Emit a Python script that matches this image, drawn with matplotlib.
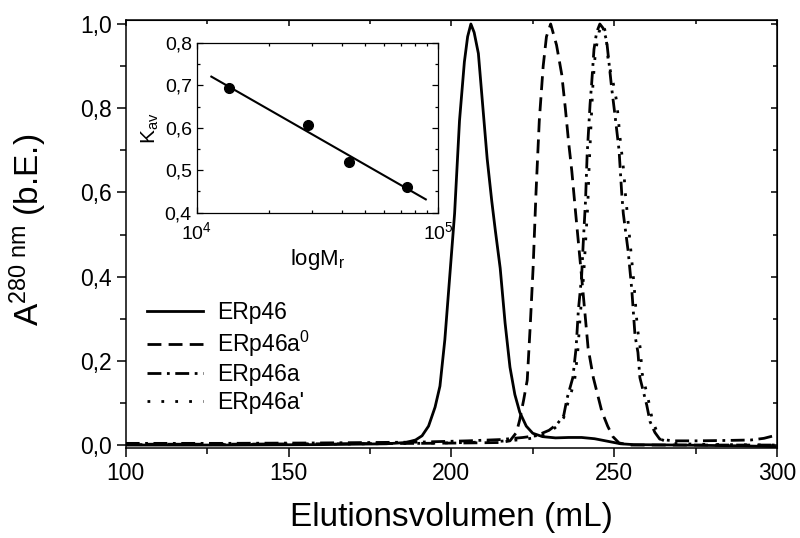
import numpy as np
import matplotlib
matplotlib.use('Agg')
import matplotlib.pyplot as plt
from matplotlib.ticker import MultipleLocator, FixedLocator, LogLocator, NullFormatter, FixedFormatter

plt.rcParams['font.family'] = ['Liberation Sans', 'DejaVu Sans']
plt.rcParams['mathtext.fontset'] = 'custom'
plt.rcParams['mathtext.rm'] = 'Liberation Sans'
plt.rcParams['mathtext.it'] = 'Liberation Sans:italic'
plt.rcParams['mathtext.bf'] = 'Liberation Sans:bold'

# ---------------- data ----------------
series_labels = ['ERp46', 'ERp46a$^{\\mathregular{0}}$', 'ERp46a', "ERp46a'"]

x_erp46 = [100, 130, 160, 180, 186, 189, 191, 193, 195, 196.5, 198, 199.5, 201, 202.5, 204, 205, 206,
           207, 208.3, 209.7, 211, 212.4, 213.5, 215, 216.5, 218, 219.5, 221, 223, 225, 228, 232, 236,
           240, 244, 248, 252, 256, 270, 290, 300]
y_erp46 = [0.000, 0.000, 0.001, 0.003, 0.006, 0.012, 0.022, 0.045, 0.09, 0.14, 0.25, 0.40, 0.55, 0.77, 0.91, 0.97, 1.0,
           0.98, 0.93, 0.80, 0.68, 0.58, 0.51, 0.42, 0.29, 0.185, 0.12, 0.078, 0.045, 0.028, 0.02, 0.017, 0.018,
           0.018, 0.015, 0.009, 0.003, 0.001, 0.0, -0.002, -0.004]

x_erp46a0 = [100, 130, 160, 190, 205, 215, 218, 220, 221, 222.2, 223.3, 224.2, 225.1, 226, 227, 228.2, 229.2,
             230.5, 232.3, 233.9, 235, 236, 237, 238, 240, 242, 243.6, 246.2, 248, 249.6, 251.5, 255, 270, 290, 300]
y_erp46a0 = [0.002, 0.002, 0.003, 0.004, 0.005, 0.006, 0.01, 0.03, 0.06, 0.107, 0.154, 0.28, 0.42, 0.60, 0.77, 0.90, 0.97,
             1.0, 0.95, 0.88, 0.80, 0.72, 0.65, 0.565, 0.40, 0.23, 0.16, 0.08, 0.045, 0.02, 0.005, 0.0, 0.0, 0.0, 0.0]

x_erp46a = [100, 130, 160, 190, 205, 215, 222, 226, 230, 232.5, 234.5, 235.5, 237.3, 238.3, 239, 240, 240.5,
            241.2, 241.7, 242.6, 243.1, 243.8, 244.6, 245.6, 246.6, 247.7, 249.2, 250.3, 251.5, 252.3, 252.8,
            254.3, 255.4, 256.4, 257.3, 257.9, 260, 261, 262.5, 264, 268, 275, 285, 292, 296, 300]
y_erp46a = [0.004, 0.004, 0.005, 0.007, 0.010, 0.013, 0.018, 0.022, 0.035, 0.05, 0.07, 0.11, 0.16, 0.23, 0.32, 0.40, 0.48,
            0.58, 0.69, 0.81, 0.86, 0.94, 0.98, 1.0, 0.99, 0.96, 0.85, 0.78, 0.70, 0.60, 0.55,
            0.46, 0.37, 0.26, 0.22, 0.16, 0.095, 0.056, 0.03, 0.014, 0.010, 0.010, 0.011, 0.012, 0.016, 0.024]

x_erp46a1 = [100, 130, 160, 190, 205, 215, 222, 226, 230, 232.5, 234.5, 235.8, 237.8, 238.8, 239.6, 240.6, 241.2,
             241.9, 242.3, 243.0, 243.5, 244.2, 245.3, 246.5, 247.4, 248.2, 249.7, 250.8, 251.8, 253.0, 253.4,
             254.9, 256.0, 257.1, 258.0, 258.6, 260.7, 261.7, 263.2, 264.8, 268, 275, 285, 300]
y_erp46a1 = [0.001, 0.001, 0.002, 0.004, 0.006, 0.009, 0.013, 0.018, 0.03, 0.045, 0.065, 0.10, 0.15, 0.22, 0.31, 0.40, 0.48,
             0.57, 0.66, 0.78, 0.86, 0.93, 0.98, 1.0, 0.98, 0.91, 0.86, 0.815, 0.73, 0.646, 0.60,
             0.48, 0.39, 0.28, 0.23, 0.17, 0.10, 0.06, 0.03, 0.012, 0.004, 0.002, 0.001, 0.0]

x_ticks = [100, 150, 200, 250, 300]
x_ticklabels = ['100', '150', '200', '250', '300']
y_ticks = [0.0, 0.2, 0.4, 0.6, 0.8, 1.0]
y_ticklabels = ['0,0', '0,2', '0,4', '0,6', '0,8', '1,0']

# inset data
mr_points = [13650, 28970, 42700, 74200]
kav_points = [0.693, 0.606, 0.519, 0.461]
fit_range = [11500, 89000]
inset_yticks = [0.4, 0.5, 0.6, 0.7, 0.8]
inset_yticklabels = ['0,4', '0,5', '0,6', '0,7', '0,8']
inset_xticks = [1e4, 1e5]
inset_xticklabels = ['10$^{\\mathregular{4}}$', '10$^{\\mathregular{5}}$']

# ---------------- figure ----------------
fig = plt.figure(figsize=(8.0, 5.38), dpi=100)
ax = fig.add_axes([125.7/800, 1-448/538, (777-125.7)/800, (448-20)/538])

lw = 2.0
ax.plot(x_erp46, y_erp46, color='black', lw=lw, linestyle='-', label=series_labels[0])
ax.plot(x_erp46a0, y_erp46a0, color='black', lw=lw, linestyle=(0, (5, 2.6)), label=series_labels[1])
ax.plot(x_erp46a, y_erp46a, color='black', lw=lw, linestyle=(0, (5, 2, 1, 2)), label=series_labels[2])
ax.plot(x_erp46a1, y_erp46a1, color='black', lw=lw, linestyle=(0, (1, 4)), label=series_labels[3])

ax.set_xlim(100, 300)
ax.set_ylim(-0.007, 1.0095)
ax.xaxis.set_major_locator(FixedLocator(x_ticks))
ax.xaxis.set_major_formatter(FixedFormatter(x_ticklabels))
ax.xaxis.set_minor_locator(MultipleLocator(25))
ax.yaxis.set_major_locator(FixedLocator(y_ticks))
ax.yaxis.set_major_formatter(FixedFormatter(y_ticklabels))
ax.yaxis.set_minor_locator(MultipleLocator(0.1))
ax.tick_params(which='both', direction='out', labelsize=16.5, width=1.1, colors='black')
ax.tick_params(which='major', length=6.5)
ax.tick_params(which='minor', length=4)
for s in ax.spines.values():
    s.set_linewidth(1.1)

secx = ax.secondary_xaxis('top')
secx.xaxis.set_major_locator(FixedLocator(x_ticks))
secx.xaxis.set_minor_locator(MultipleLocator(25))
secx.tick_params(which='both', direction='in', labeltop=False, width=1.1)
secx.tick_params(which='major', length=4)
secx.tick_params(which='minor', length=3)
secy = ax.secondary_yaxis('right')
secy.yaxis.set_major_locator(FixedLocator(y_ticks))
secy.yaxis.set_minor_locator(MultipleLocator(0.1))
secy.tick_params(which='both', direction='in', labelright=False, width=1.1)
secy.tick_params(which='major', length=4)
secy.tick_params(which='minor', length=3)

ax.set_xlabel('Elutionsvolumen (mL)', fontsize=24, labelpad=12)
ax.set_ylabel('A$^{\\mathregular{280\\ nm}}$ (b.E.)', fontsize=24)
ax.yaxis.set_label_coords(-0.117, 0.51)

leg = ax.legend(loc='upper left', bbox_to_anchor=(147/800, 1-301/538), bbox_transform=fig.transFigure,
                frameon=False, fontsize=16.5, handlelength=2.45, handletextpad=0.62,
                labelspacing=0.2, borderpad=0, borderaxespad=0)

# ---------------- inset ----------------
ins = fig.add_axes([196.7/800, 1-212.7/538, (438-196.7)/800, (212.7-43)/538])
ins.plot(mr_points, kav_points, 'o', color='black', markersize=7)
fx = np.array(fit_range)
coef = np.polyfit(np.log10(mr_points), kav_points, 1)
ins.plot(fx, np.polyval(coef, np.log10(fx)), color='black', lw=1.5)
ins.set_xscale('log')
ins.set_xlim(1e4, 1e5)
ins.set_ylim(0.4, 0.8)
ins.xaxis.set_major_locator(FixedLocator(inset_xticks))
ins.xaxis.set_major_formatter(FixedFormatter(inset_xticklabels))
ins.xaxis.set_minor_locator(LogLocator(base=10, subs=np.arange(2, 10)))
ins.xaxis.set_minor_formatter(NullFormatter())
ins.yaxis.set_major_locator(FixedLocator(inset_yticks))
ins.yaxis.set_major_formatter(FixedFormatter(inset_yticklabels))
ins.yaxis.set_minor_locator(MultipleLocator(0.05))
ins.tick_params(which='both', direction='in', top=True, right=True, labelsize=14, width=0.9)
ins.tick_params(axis='x', pad=6)
ins.tick_params(which='major', length=4)
ins.tick_params(which='minor', length=2.5)
for s in ins.spines.values():
    s.set_linewidth(0.9)
ins.set_xlabel('logM$_{\\mathregular{r}}$', fontsize=16, labelpad=3)
ins.set_ylabel('K$_{\\mathregular{av}}$', fontsize=15, labelpad=3)

fig.savefig('out.png', dpi=100)
